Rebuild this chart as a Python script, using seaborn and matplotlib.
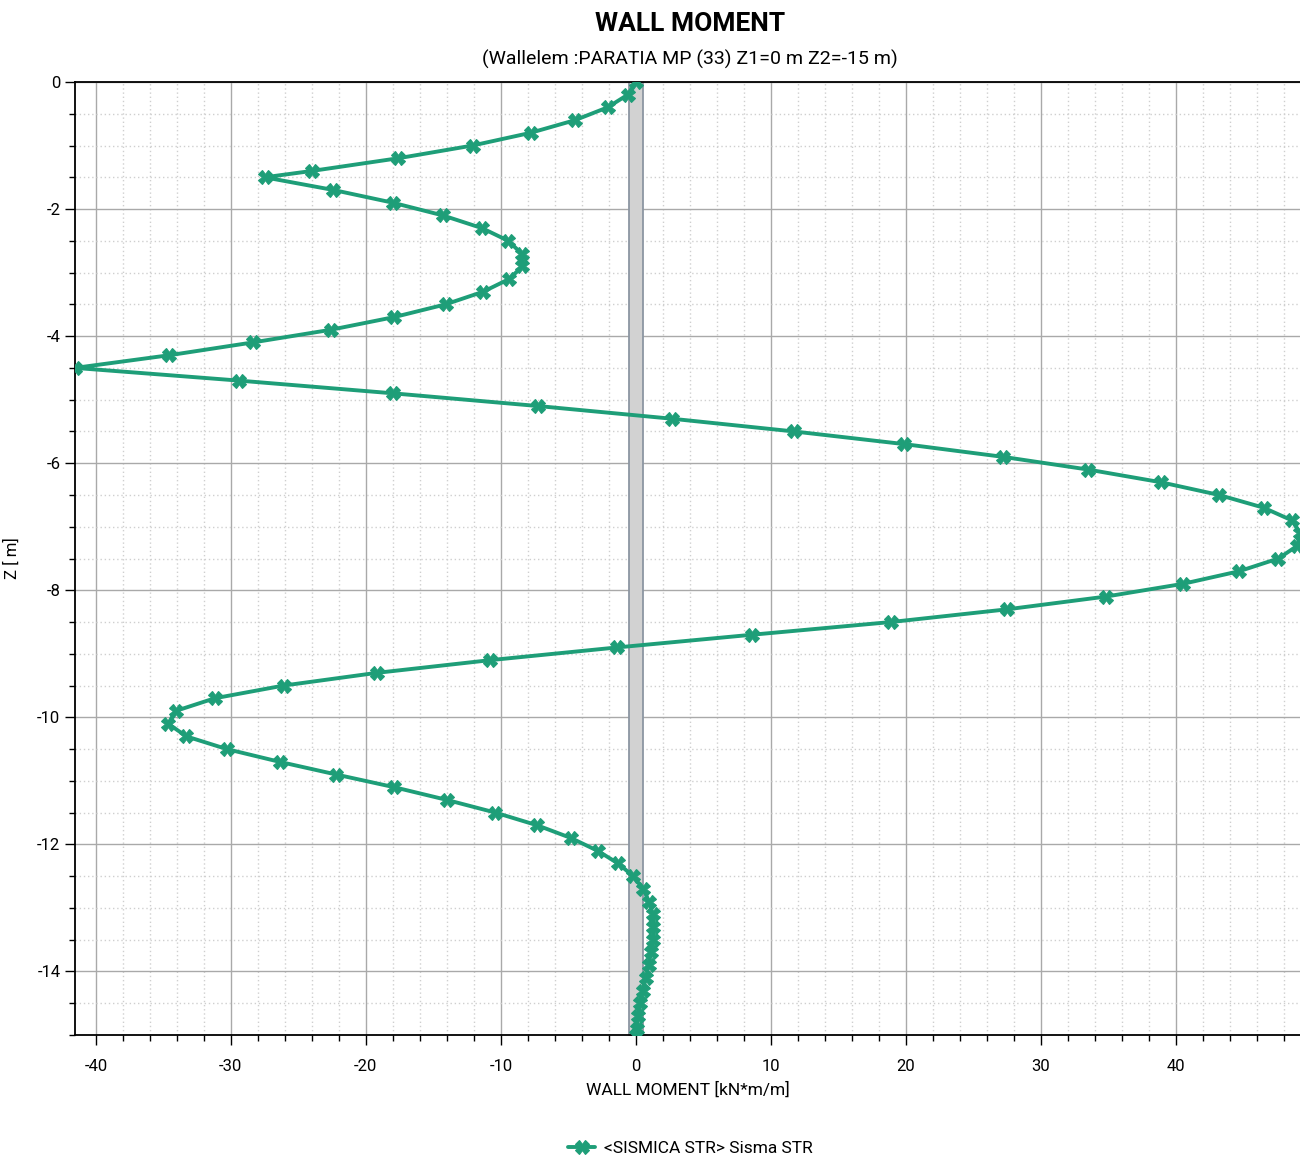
import numpy as np
import pandas as pd
import matplotlib
matplotlib.use("Agg")
import matplotlib.pyplot as plt
from matplotlib.ticker import MultipleLocator
import seaborn as sns

# ---- data ----
depth = [0.0, -0.2, -0.4, -0.6, -0.8, -1.0, -1.2, -1.4,
         -1.5, -1.7, -1.9, -2.1, -2.3, -2.5, -2.7, -2.9, -3.1, -3.3, -3.5, -3.7, -3.9,
         -4.1, -4.3, -4.5, -4.7, -4.9, -5.1, -5.3, -5.5, -5.7, -5.9, -6.1, -6.3, -6.5,
         -6.7, -6.9, -7.1, -7.3, -7.5, -7.7, -7.9, -8.1, -8.3, -8.5, -8.7, -8.9, -9.1,
         -9.3, -9.5, -9.7, -9.9, -10.1, -10.3, -10.5, -10.7, -10.9, -11.1, -11.3, -11.5,
         -11.7, -11.9, -12.1, -12.3, -12.5, -12.7, -12.9, -13.1, -13.3, -13.5, -13.7,
         -13.9, -14.1, -14.3, -14.5, -14.7, -14.9, -15.0]
moment = [0.0, -0.6, -2.1, -4.5, -7.8, -12.1, -17.6, -24.0,
          -27.5, -22.4, -18.0, -14.3, -11.4, -9.45, -8.47, -8.4, -9.38, -11.3, -14.1, -17.9, -22.6,
          -28.4, -34.55, -41.55, -29.4, -18.0, -7.26, 2.67, 11.7, 19.9, 27.2, 33.5, 38.9, 43.2,
          46.5, 48.6, 49.2, 49.0, 47.6, 44.7, 40.5, 34.8, 27.5, 18.9, 8.6, -1.4, -10.8,
          -19.2, -26.1, -31.2, -34.1, -34.65, -33.3, -30.3, -26.4, -22.2, -17.9, -14.0, -10.4,
          -7.3, -4.8, -2.84, -1.31, -0.2, 0.54, 0.98, 1.25, 1.3, 1.27, 1.12,
          0.95, 0.75, 0.52, 0.3, 0.17, 0.08, 0.03]
series_label = "<SISMICA STR> Sisma STR"
wall_half_width = 0.5
title = "WALL MOMENT"
subtitle = "(Wallelem :PARATIA MP (33) Z1=0 m Z2=-15 m)"
xlabel = "WALL MOMENT [kN*m/m]"
ylabel = "Z [ m]"

df = pd.DataFrame({"M": moment, "Z": depth, "series": series_label})

sns.set_style("white")
plt.rcParams["font.family"] = ["Roboto", "DejaVu Sans"]
plt.rcParams["axes.unicode_minus"] = False
plt.rcParams["text.color"] = "black"
plt.rcParams["axes.labelcolor"] = "black"
plt.rcParams["xtick.color"] = "black"
plt.rcParams["ytick.color"] = "black"

fig = plt.figure(figsize=(13, 11.6), dpi=100)
ax = fig.add_axes([75/1300, 1-1035/1160, 1-75/1300, (1035-82)/1160])

green = "#1e9e78"

# wall band
ax.fill_betweenx([min(depth), max(depth)], -wall_half_width, wall_half_width,
                 facecolor="#d2d2d2", edgecolor="#8c96a2", linewidth=1.3, zorder=2)

sns.lineplot(data=df, x="M", y="Z", hue="series", palette=[green], sort=False,
             estimator=None, marker="X", markersize=10, markeredgewidth=0.8,
             markeredgecolor=green, linewidth=2.8, ax=ax, zorder=3, legend=True)

ax.set_xlim(min(moment), max(moment))
ax.set_ylim(min(depth), max(depth))

ax.xaxis.set_major_locator(MultipleLocator(10))
ax.xaxis.set_minor_locator(MultipleLocator(2))
ax.yaxis.set_major_locator(MultipleLocator(2))
ax.yaxis.set_minor_locator(MultipleLocator(0.5))

ax.grid(which="major", color="#a9a9a9", linewidth=1.0, zorder=0)
ax.grid(which="minor", color="#cfcfcf", linewidth=1.0, linestyle=(0, (1, 2)), zorder=0)
ax.set_axisbelow(True)

ax.tick_params(which="major", direction="out", length=7, width=1, color="black",
               labelsize=12, bottom=True, left=True)
ax.tick_params(which="minor", direction="out", length=4, width=1, color="black",
               bottom=True, left=True)
ax.tick_params(axis="x", pad=10)

for s in ["left", "bottom", "top"]:
    ax.spines[s].set_color("black")
    ax.spines[s].set_linewidth(1.3)
ax.spines["right"].set_visible(False)

ax.set_xlabel(xlabel, fontsize=12.5, labelpad=6)
ax.set_ylabel(ylabel, fontsize=12)
ax.yaxis.set_label_coords(-0.045, 0.5)

fig.text(0.531, 1-24/1160, title, ha="center", va="center", fontsize=19, fontweight="bold")
fig.text(0.531, 1-59/1160, subtitle, ha="center", va="center", fontsize=14)

handles, labels = ax.get_legend_handles_labels()
ax.get_legend().remove()
fig.legend(handles, labels, loc="center", bbox_to_anchor=(0.531, 1-1148/1160),
           frameon=False, fontsize=12.5, handlelength=1.6, handletextpad=0.5)

fig.savefig("out.png", dpi=100)
